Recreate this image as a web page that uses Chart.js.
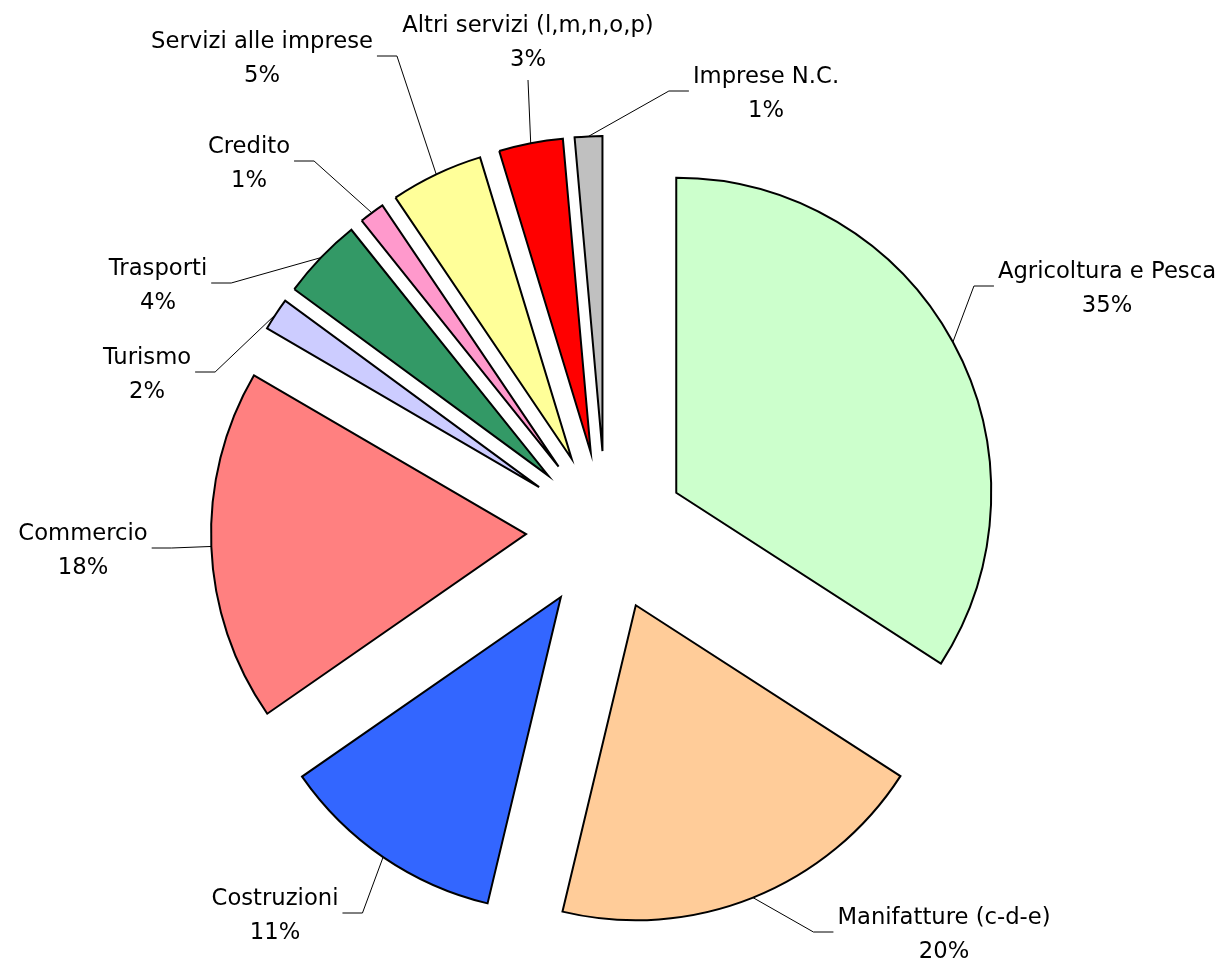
<!DOCTYPE html>
<html lang="it">
<head>
<meta charset="utf-8">
<title>Imprese per settore</title>
<script src="https://cdn.jsdelivr.net/npm/chart.js@4.4.1/dist/chart.umd.min.js"></script>
<style>
  html, body { margin: 0; padding: 0; background: #fff; }
  #wrap { width: 1223px; height: 964px; }
</style>
</head>
<body>
<div id="wrap"><canvas id="pie" width="1223" height="964"></canvas></div>
<script>
/* ---- Dati ---- */
const settori = [
  'Agricoltura e Pesca', 'Manifatture (c-d-e)', 'Costruzioni', 'Commercio',
  'Turismo', 'Trasporti', 'Credito', 'Servizi alle imprese',
  'Altri servizi (l,m,n,o,p)', 'Imprese N.C.'
];
const quote = [34.1, 19.6, 11.6, 18.05, 1.67, 4.17, 1.3, 4.75, 3.28, 1.41];
const etichettePct = ['35%', '20%', '11%', '18%', '2%', '4%', '1%', '5%', '3%', '1%'];
const colori = [
  '#CCFFCC', '#FFCC99', '#3366FF', '#FF8080', '#CCCCFF',
  '#339966', '#FF99CC', '#FFFF99', '#FF0000', '#C0C0C0'
];

/* ---- Posizione etichette (centro testo, baseline prima riga, lato del collegamento) ---- */
const labelLayout = [
  { x: 1107, y: 278, attach: 'left' },
  { x: 944,  y: 924, attach: 'left' },
  { x: 275,  y: 905, attach: 'right' },
  { x: 83,   y: 540, attach: 'right' },
  { x: 147,  y: 364, attach: 'right' },
  { x: 158,  y: 275, attach: 'right' },
  { x: 249,  y: 153, attach: 'right' },
  { x: 262,  y: 48,  attach: 'right' },
  { x: 528,  y: 32,  attach: 'bottom' },
  { x: 766,  y: 83,  attach: 'left' }
];

const EXPLODE = 80;      // spostamento radiale di ogni fetta (px)
const FONT = '22.7px "DejaVu Sans"';
const LINE_GAP = 34;

/* ---- Fette esplose: trasla ogni arco lungo la sua bisettrice ---- */
const baseArcDraw = Chart.ArcElement.prototype.draw;
Chart.ArcElement.prototype.draw = function (ctx) {
  const mid = (this.startAngle + this.endAngle) / 2;
  ctx.save();
  ctx.translate(Math.cos(mid) * EXPLODE, Math.sin(mid) * EXPLODE);
  baseArcDraw.call(this, ctx);
  ctx.restore();
};

/* ---- Etichette con linee guida ---- */
const leaderLabels = {
  id: 'leaderLabels',
  afterDatasetsDraw(chart) {
    const ctx = chart.ctx;
    const arcs = chart.getDatasetMeta(0).data;
    ctx.save();
    ctx.font = FONT;
    ctx.fillStyle = '#000';
    ctx.strokeStyle = '#000';
    ctx.lineWidth = 1;
    ctx.textAlign = 'center';
    ctx.textBaseline = 'alphabetic';

    arcs.forEach((arc, i) => {
      const lay = labelLayout[i];
      const mid = (arc.startAngle + arc.endAngle) / 2;
      const r = arc.outerRadius + EXPLODE;
      const px = arc.x + Math.cos(mid) * r;
      const py = arc.y + Math.sin(mid) * r;

      const w = Math.max(ctx.measureText(settori[i]).width, ctx.measureText(etichettePct[i]).width);
      const segY = lay.y + 8;

      ctx.beginPath();
      ctx.moveTo(px, py);
      if (lay.attach === 'left') {
        const edge = lay.x - w / 2 - 4;
        ctx.lineTo(edge - 20, segY);
        ctx.lineTo(edge, segY);
      } else if (lay.attach === 'right') {
        const edge = lay.x + w / 2 + 4;
        ctx.lineTo(edge + 20, segY);
        ctx.lineTo(edge, segY);
      } else {
        ctx.lineTo(lay.x, lay.y + LINE_GAP + 14);
      }
      ctx.stroke();

      ctx.fillText(settori[i], lay.x, lay.y);
      ctx.fillText(etichettePct[i], lay.x, lay.y + LINE_GAP);
    });
    ctx.restore();
  }
};

new Chart(document.getElementById('pie').getContext('2d'), {
  type: 'pie',
  data: {
    labels: settori,
    datasets: [{
      data: quote,
      backgroundColor: colori,
      borderColor: '#000',
      borderWidth: 2,
      borderJoinStyle: 'miter'
    }]
  },
  options: {
    responsive: false,
    animation: false,
    events: [],
    radius: 315,
    layout: { padding: { left: 0, right: 11, top: 98, bottom: 0 } },
    plugins: {
      legend: { display: false },
      tooltip: { enabled: false }
    }
  },
  plugins: [leaderLabels]
});
</script>
</body>
</html>
